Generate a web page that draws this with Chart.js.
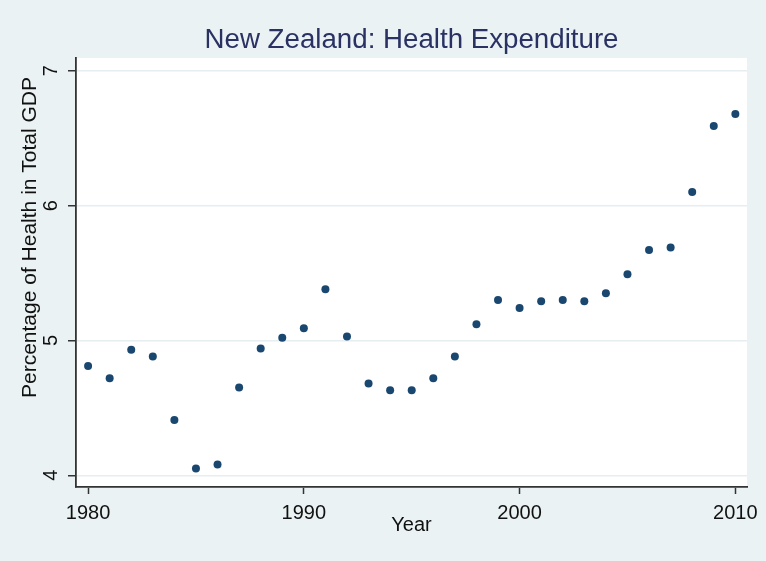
<!DOCTYPE html>
<html>
<head>
<meta charset="utf-8">
<script src="https://cdn.jsdelivr.net/npm/chart.js@4.4.1/dist/chart.umd.min.js"></script>
<style>
  html, body { margin: 0; padding: 0; background: #EAF2F3; }
  #wrap { width: 766px; height: 561px; }
</style>
</head>
<body>
<div id="wrap"><canvas id="c" width="766" height="561"></canvas></div>
<script>
const years = [1980,1981,1982,1983,1984,1985,1986,1987,1988,1989,1990,1991,1992,1993,1994,1995,1996,1997,1998,1999,2000,2001,2002,2003,2004,2005,2006,2007,2008,2009,2010];
const healthShare = [4.81,4.72,4.93,4.88,4.41,4.05,4.08,4.65,4.94,5.02,5.09,5.38,5.03,4.68,4.63,4.63,4.72,4.88,5.12,5.30,5.24,5.29,5.30,5.29,5.35,5.49,5.67,5.69,6.10,6.59,6.68];
const xTickValues = [1980,1990,2000,2010];
const yTickValues = [4,5,6,7];
const chartTitle = "New Zealand: Health Expenditure";
const xTitle = "Year";
const yTitle = "Percentage of Health in Total GDP";

const points = years.map((y, i) => ({x: y, y: healthShare[i]}));

const bgPlugin = {
  id: 'bg',
  beforeDraw(chart) {
    const {ctx, chartArea: a} = chart;
    ctx.save();
    ctx.fillStyle = '#EAF2F3';
    ctx.fillRect(0, 0, chart.width, chart.height);
    ctx.fillStyle = '#FFFFFF';
    ctx.fillRect(a.left, a.top, a.right - a.left, a.bottom - a.top);
    ctx.restore();
  }
};

const yTitlePlugin = {
  id: 'ytitle',
  afterDraw(chart) {
    const ctx = chart.ctx;
    ctx.save();
    ctx.translate(30, 237.5);
    ctx.rotate(-Math.PI / 2);
    ctx.font = '21px "Liberation Sans", Arial, sans-serif';
    ctx.fillStyle = '#111111';
    ctx.textAlign = 'center';
    ctx.textBaseline = 'middle';
    ctx.fillText(yTitle, 0, 0);
    ctx.restore();
  }
};

Chart.defaults.font.family = '"Liberation Sans", Arial, sans-serif';

new Chart(document.getElementById('c'), {
  type: 'scatter',
  data: {
    datasets: [{
      data: points,
      backgroundColor: '#1A476F',
      borderWidth: 0,
      pointRadius: 4,
      pointHoverRadius: 4,
      pointStyle: 'circle'
    }]
  },
  options: {
    responsive: false,
    animation: false,
    layout: { padding: { left: 0, right: 19, top: 0, bottom: 0 } },
    plugins: {
      legend: { display: false },
      tooltip: { enabled: false },
      title: {
        display: true,
        text: chartTitle,
        fullSize: false,
        color: '#2A3264',
        font: { size: 27.7, weight: 'normal' },
        padding: { top: 24, bottom: 0.76 }
      }
    },
    scales: {
      x: {
        type: 'linear',
        min: 1979.44,
        max: 2010.54,
        afterBuildTicks: (s) => { s.ticks = xTickValues.map(v => ({value: v})); },
        afterFit: (s) => { s.height = 74; },
        ticks: {
          color: '#111111',
          font: { size: 20 },
          padding: 7,
          maxRotation: 0,
          callback: (v) => String(v)
        },
        grid: {
          drawOnChartArea: false,
          drawTicks: true,
          tickLength: 7,
          tickColor: '#333333',
          tickWidth: 1.5
        },
        border: { display: true, color: '#333333', width: 1.8 },
        title: {
          display: true,
          text: xTitle,
          color: '#111111',
          font: { size: 20 },
          padding: { top: 0, bottom: 24 }
        }
      },
      y: {
        type: 'linear',
        min: 3.913,
        max: 7.0946,
        afterBuildTicks: (s) => { s.ticks = yTickValues.map(v => ({value: v})); },
        afterFit: (s) => { s.width = 76; },
        ticks: {
          color: '#111111',
          font: { size: 20 },
          padding: 11.4,
          minRotation: 90,
          maxRotation: 90,
          crossAlign: 'center',
          callback: (v) => String(v)
        },
        grid: {
          color: '#E6EEF1',
          lineWidth: 1.5,
          drawTicks: true,
          tickLength: 8,
          tickColor: '#333333',
          tickWidth: 1.5
        },
        border: { display: true, color: '#333333', width: 1.8 },
        title: { display: false }
      }
    }
  },
  plugins: [bgPlugin, yTitlePlugin]
});
</script>
</body>
</html>
